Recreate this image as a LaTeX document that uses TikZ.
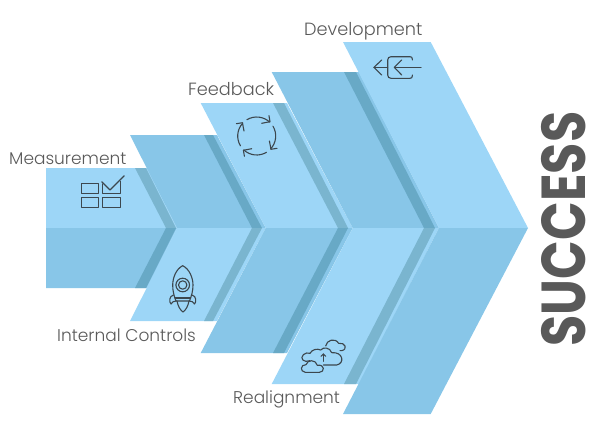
\documentclass[tikz,border=0pt]{standalone}
\usepackage{fontspec}
\setmainfont{Poppins}[UprightFont=* Light,BoldFont=* Bold]
\newfontfamily\successfont{Poppins}[UprightFont=* Bold,FakeStretch=0.82]
\usetikzlibrary{arrows.meta}
\definecolor{lite}{HTML}{9DD6F7}
\definecolor{deep}{HTML}{88C6E8}
\definecolor{bandlite}{HTML}{7AB5CF}
\definecolor{banddeep}{HTML}{68A9C6}
\definecolor{inkgrey}{HTML}{595959}
\definecolor{iconink}{HTML}{3C474E}
\tikzset{
  lbl/.style={anchor=base west,inner sep=0pt,text=inkgrey,font=\fontsize{17}{19}\selectfont},
  lblwide/.style={lbl,font=\fontsize{17.7}{20}\selectfont},
  icon/.style={draw=iconink,line width=1.1pt,line join=round,line cap=round},
}
\begin{document}
\begin{tikzpicture}[x=1pt,y=-1pt]
\useasboundingbox (0,0) rectangle (600,437);
% chevrons: left x / top y / right x / tip x / notch x / band top L,R / band tip L,R / colours
\foreach \tl/\ty/\tr/\tp/\nx/\ba/\bb/\bc/\bd/\cu/\bu/\cl/\bl in {
  46/168/147/177/46/135/146/166/176/lite/bandlite/deep/banddeep,
  130/135/217/265.7/177/204/213/252/262/deep/banddeep/lite/bandlite,
  200.7/103/287/352.7/265.7/273/284/338/348/lite/bandlite/deep/banddeep,
  271.7/72/359/439/352.7/344/356/424/435/deep/banddeep/lite/bandlite,
  343/42/430.7/528/439/0/0/0/0/lite/lite/deep/deep}
{
  \pgfmathsetmacro{\by}{456-\ty}
  \fill[fill=\cu] (\tl,\ty) -- (\tr,\ty) -- (\tp,228) -- (\nx,228) -- cycle;
  \fill[fill=\cl] (\nx,228) -- (\tp,228) -- (\tr,\by) -- (\tl,\by) -- cycle;
  \ifdim\ba pt>0pt
    \fill[fill=\bu] (\ba,\ty) -- (\bb,\ty) -- (\bd,228) -- (\bc,228) -- cycle;
    \fill[fill=\bl] (\bc,228) -- (\bd,228) -- (\bb,\by) -- (\ba,\by) -- cycle;
  \fi
}
% labels
\node[lbl] (measure) at (9,164) {Measurement};
\node[lbl] (internal) at (57,341) {Internal Controls};
\node[lblwide] (feedback) at (188,95) {Feedback};
\node[lblwide] (develop) at (304,35) {Development};
\node[lbl] (realign) at (233,403) {Realignment};
\node[rotate=90,inner sep=0pt,text=inkgrey,font=\fontsize{62}{62}\selectfont\successfont] (success) at (563.5,229) {SUCCESS};
% measurement icon
\draw[icon] (81.3,183.3) rectangle (98.7,193.3);
\draw[icon] (81.3,197.3) rectangle (98.7,207.7);
\draw[icon] (102.7,197.3) rectangle (120.3,207.7);
\draw[icon] (102.7,184) -- (102.7,193.3) -- (120.3,193.3) -- (120.3,181.5);
\draw[icon] (101.7,181.7) -- (110,190) -- (124.3,175.7);
% rocket icon
\draw[icon] (182.7,265.7) .. controls (176,269) and (172.7,278) .. (172.7,285) .. controls (172.7,291) and (174,296) .. (176,301)
  -- (189.5,301) .. controls (191.5,296) and (193,291) .. (193,285) .. controls (193,278) and (189.5,269) .. (182.7,265.7) -- cycle;
\draw[icon] (182.7,285) circle (6.8);
\draw[icon] (182.7,285) circle (4.2);
\draw[icon] (175,298) -- (190.5,298);
\draw[icon] (173.5,295) .. controls (169,296) and (169,302) .. (171,304) .. controls (172,302) and (174,301) .. (176,301);
\draw[icon] (192,295) .. controls (196.5,296) and (196.5,302) .. (194.5,304) .. controls (193.5,302) and (191.5,301) .. (189.5,301);
\draw[icon] (177,301) .. controls (178,306) and (180,310) .. (183,312) .. controls (186,310) and (188,306) .. (189,301);
% cycle icon
\foreach \r in {0,90,180,270}{
  \begin{scope}[shift={(256.7,136)},rotate=\r]
    \draw[icon] (-121:19) arc[start angle=-121,end angle=-47,radius=19];
    \draw[icon] (5,-12.7) -- (13.3,-14.3) -- (12.3,-20.3);
  \end{scope}
}
% development icon
\draw[icon] (381.7,60) -- (374,67.3) -- (381.7,75);
\draw[icon] (374,67.3) -- (387.7,67.3);
\draw[icon] (412.3,60) -- (412.3,59) .. controls (412.3,57.5) and (411.5,56.7) .. (410,56.7) -- (391,56.7)
  .. controls (389,56.7) and (387.7,58) .. (387.7,60) -- (387.7,75) .. controls (387.7,77) and (389,78.3) .. (391,78.3)
  -- (410,78.3) .. controls (411.5,78.3) and (412.3,77.5) .. (412.3,76) -- (412.3,75);
\draw[icon] (401.7,60) -- (394.3,67.3) -- (401.7,75);
\draw[icon] (394.3,67.3) -- (421,67.3);
% cloud icon
\begin{scope}[shift={(290,330)},x=0.3333pt,y=-0.3333pt]
  \draw[icon] (107,48) .. controls (110,30) and (135,22) .. (146,40) .. controls (165,36) and (175,58) .. (155,62) -- (150,62);
  \draw[icon] (60,92) .. controls (42,100) and (28,85) .. (40,74) .. controls (45,68) and (55,68) .. (60,70)
     .. controls (66,58) and (82,55) .. (92,60) .. controls (100,50) and (120,52) .. (125,68)
     .. controls (160,65) and (165,100) .. (140,105) -- (100,105);
  \draw[icon] (46,127) .. controls (28,125) and (32,103) .. (48,104) .. controls (52,88) and (78,88) .. (82,106)
     .. controls (105,102) and (105,127) .. (88,127) -- cycle;
  \draw[icon] (100,94) -- (100,72);
  \draw[icon] (93,79) -- (100,72) -- (107,79);
\end{scope}
\end{tikzpicture}
\end{document}
